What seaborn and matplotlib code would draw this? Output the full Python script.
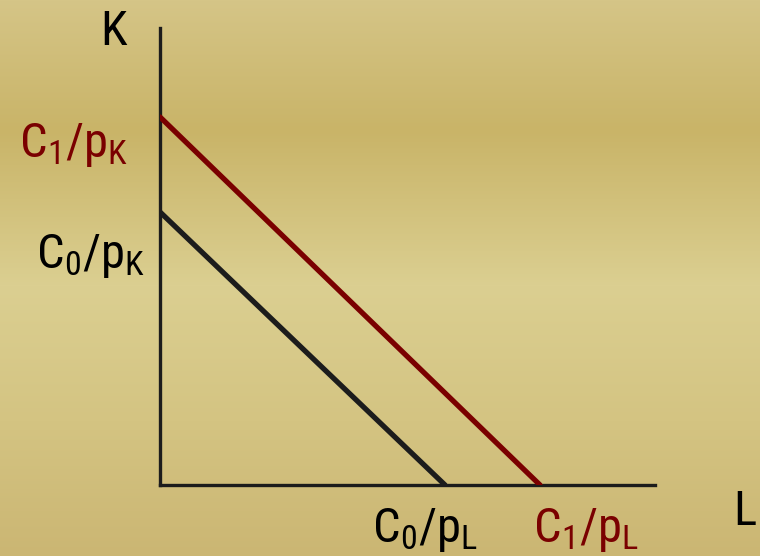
import numpy as np
import pandas as pd
import matplotlib
matplotlib.use("Agg")
import matplotlib.pyplot as plt
import matplotlib.colors as mcolors
import seaborn as sns

# isocost lines: intercepts on L (x) and K (y) axes
lines = ["C0", "C1"]
l_intercepts = [2.85, 3.80]
k_intercepts = [2.73, 3.68]
line_colors = ["#1c1c1c", "#7a0000"]
text_colors = ["black", "#7a0000"]
l_labels = [r"$\mathregular{C_0/p_L}$", r"$\mathregular{C_1/p_L}$"]
k_labels = [r"$\mathregular{C_0/p_K}$", r"$\mathregular{C_1/p_K}$"]

sns.set_theme(style="white")
plt.rcParams["font.family"] = ["Roboto Condensed", "DejaVu Sans"]
plt.rcParams["mathtext.fontset"] = "custom"
plt.rcParams["mathtext.rm"] = "Roboto Condensed"
plt.rcParams["mathtext.it"] = "Roboto Condensed"

W, H = 760, 556
fig = plt.figure(figsize=(W / 100, H / 100), dpi=100)

# gold gradient background
bg = fig.add_axes([0, 0, 1, 1])
stops_y = [0, 130, 285, 420, 556]
stops_c = ["#d5c587", "#c9b468", "#dbcf91", "#d4c482", "#cbb673"]
rgb = np.array([mcolors.to_rgb(c) for c in stops_c])
yy = np.arange(H)
grad = np.stack([np.interp(yy, stops_y, rgb[:, i]) for i in range(3)], axis=1)
bg.imshow(np.repeat(grad[:, None, :], 4, axis=1), aspect="auto", extent=[0, 1, 0, 1])
bg.axis("off")

x0, x1 = 160 / W, 655 / W
y0, y1 = (H - 485) / H, (H - 28) / H
ax = fig.add_axes([x0, y0, x1 - x0, y1 - y0])
ax.patch.set_alpha(0)

df = pd.DataFrame({
    "line": np.repeat(lines, 2),
    "L": [0, l_intercepts[0], 0, l_intercepts[1]],
    "K": [k_intercepts[0], 0, k_intercepts[1], 0],
})
sns.lineplot(data=df, x="L", y="K", hue="line", palette=line_colors,
             linewidth=3.8, legend=False, ax=ax, sort=False, zorder=3)

ax.set_xlim(0, 4.95)
ax.set_ylim(0, 4.57)
ax.set_xticks([])
ax.set_yticks([])
ax.set_xlabel("")
ax.set_ylabel("")
for s in ["top", "right"]:
    ax.spines[s].set_visible(False)
for s in ["left", "bottom"]:
    ax.spines[s].set_color("#1c1c1c")
    ax.spines[s].set_linewidth(2.4)

fs = 35
# label placement (data-unit offsets from each intercept)
l_dx = [-0.20, 0.46]
k_dx = [-0.15, -0.32]
k_dy = [-0.56, -0.40]
for lab, xv, dx, c in zip(l_labels, l_intercepts, l_dx, text_colors):
    ax.text(xv + dx, -0.57, lab, ha="center", va="baseline", fontsize=fs, color=c, clip_on=False)
for lab, yv, dx, dy, c in zip(k_labels, k_intercepts, k_dx, k_dy, text_colors):
    ax.text(dx, yv + dy, lab, ha="right", va="baseline", fontsize=fs, color=c, clip_on=False)

fig.text(100 / W, 1 - 45 / H, "K", ha="left", va="baseline", fontsize=fs, color="black")
fig.text(756 / W, 1 - 525 / H, "L", ha="right", va="baseline", fontsize=fs, color="black")

fig.savefig("out.png", dpi=100)
